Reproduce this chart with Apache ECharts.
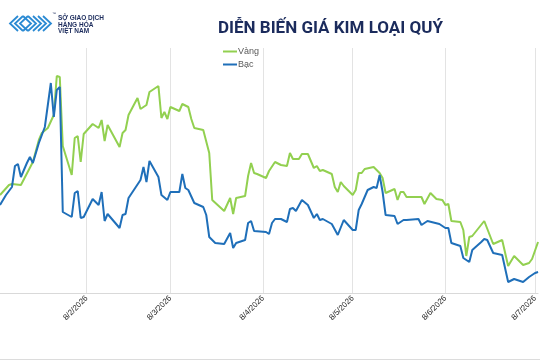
<!DOCTYPE html>
<html><head><meta charset="utf-8">
<script src="https://cdn.jsdelivr.net/npm/echarts@6/dist/echarts.min.js"></script>
<style>html,body{margin:0;padding:0;background:#fff}#c{width:540px;height:360px}</style>
</head><body><div id="c"></div>
<script>
var titleText = 'DIỄN BIẾN GIÁ KIM LOẠI QUÝ';
var seriesNames = ['Vàng', 'Bạc'];
var yearLabel = '2026';
var firstDay = '2026-01-10';
var lastDay = '2026-07-09';
var tickDay = '08';

var goldDates = ['01-10','01-13','01-14','01-17','01-21','01-23','01-24','01-26','01-28','01-29','01-30','01-31',
'02-03','02-04','02-05','02-06','02-07','02-10','02-12','02-13','02-14','02-15','02-19','02-20','02-21','02-22','02-25','02-26','02-28',
'03-01','03-04','03-05','03-06','03-07','03-08','03-11','03-12','03-14','03-15','03-16','03-19','03-21','03-22','03-26','03-28','03-29','03-30',
'04-02','04-03','04-04','04-05','04-06','04-09','04-10','04-12','04-14','04-16','04-17','04-18','04-20','04-21','04-23','04-25','04-26','04-27','04-28',
'05-01','05-02','05-03','05-04','05-05','05-08','05-09','05-10','05-11','05-12','05-15','05-17','05-18','05-19','05-22','05-23','05-24','05-25','05-26','05-31',
'06-01','06-03','06-05','06-07','06-08','06-09','06-10','06-13','06-14','06-15','06-16','06-17','06-21','06-24','06-27','06-29',
'07-01','07-04','07-06','07-07','07-09'];
var goldValues = [98,108,109,108,131,153,160,165,178,217,216,147,
118,155,157,131,159,169,165,173,152,168,146,160,163,178,195,184,188,
201,207,175,181,174,186,182,189,186,174,165,163,140,93,82,95,79,95,
97,117,130,120,119,115,122,131,128,127,140,134,134,139,139,125,127,122,123,
119,106,101,111,107,98,103,120,120,124,126,120,115,100,104,93,101,101,96,96,
89,100,94,93,88,89,72,71,63,37,56,57,72,49,53,27,
37,28,30,34,51];

var silverDates = ['01-10','01-12','01-14','01-15','01-16','01-17','01-18','01-19','01-20','01-21','01-23','01-25','01-27','01-28','01-29','01-30','01-31',
'02-03','02-04','02-05','02-06','02-07','02-10','02-12','02-13','02-14','02-15','02-19','02-20','02-21','02-22','02-26','02-27','02-28',
'03-01','03-04','03-05','03-07','03-08','03-11','03-12','03-13','03-14','03-16','03-19','03-20','03-21','03-23','03-26','03-28','03-29','03-30',
'04-02','04-03','04-04','04-05','04-09','04-10','04-11','04-12','04-14','04-16','04-17','04-18','04-19','04-21','04-23','04-25','04-26','04-27','04-28',
'05-01','05-03','05-05','05-08','05-09','05-10','05-11','05-13','05-15','05-16','05-17','05-18','05-19','05-22','05-23','05-25','05-26','05-30','05-31',
'06-02','06-06','06-08','06-09','06-10','06-13','06-14','06-16','06-17','06-20','06-21','06-22','06-24','06-27','06-29',
'07-01','07-04','07-06','07-08','07-09'];
var silverValues = [88,98,106,127,129,116,123,130,136,130,150,166,210,176,203,206,81,
76,100,102,75,76,94,88,101,72,79,65,78,79,95,113,126,111,
132,116,98,93,101,101,119,105,103,90,86,78,56,50,49,60,45,50,
53,70,72,62,61,59,70,74,74,71,84,85,82,93,88,75,79,73,74,
69,58,73,63,63,83,89,103,106,105,118,101,78,77,69,73,73,74,68,
72,69,65,65,50,47,35,31,43,51,54,53,40,38,11,
14,11,16,20,21];

function pad(n){return (n<10?'0':'')+n;}
var categories = [];
(function(){
  var t = Date.parse(firstDay+'T00:00:00Z'), end = Date.parse(lastDay+'T00:00:00Z');
  while (t <= end) { var d = new Date(t); categories.push(d.getUTCFullYear()+'-'+pad(d.getUTCMonth()+1)+'-'+pad(d.getUTCDate())); t += 86400000; }
})();
function pairs(dates, vals){ return dates.map(function(d,i){ return [yearLabel+'-'+d, vals[i]]; }); }
function isTick(idx, val){ return typeof val === 'string' && val.slice(8) === tickDay; }

var chart = echarts.init(document.getElementById('c'), null, {renderer:'canvas'});
var logoColor = '#2b8ad3';
var chev = function(pts){ return {type:'polyline', shape:{points:pts}, style:{stroke:logoColor, lineWidth:1.8, fill:null}}; };
chart.setOption({
  animation:false,
  backgroundColor:'#fff',
  title:{ text:titleText, left:213, top:15, textStyle:{fontFamily:'Roboto', fontWeight:'bold', fontSize:17, color:'#1b2b5c'} },
  legend:{ data:seriesNames, orient:'vertical', left:218, top:42, itemWidth:14, itemHeight:2, itemGap:4, icon:'rect',
    textStyle:{fontFamily:'Liberation Sans', fontSize:9, color:'#595959', padding:[0,0,0,-4]} },
  grid:{ left:-1, right:1, top:48, bottom:67, containLabel:false },
  xAxis:{ type:'category', data:categories, boundaryGap:false,
    axisLine:{show:true, lineStyle:{color:'#d9d9d9', width:1}},
    axisTick:{show:false},
    splitLine:{show:true, interval:isTick, lineStyle:{color:'#e3e3e3', width:1}},
    axisLabel:{ interval:isTick, rotate:45, margin:4, fontFamily:'Liberation Sans', fontSize:8, color:'#2b2b2b',
      formatter:function(v){ var p=v.split('-'); return parseInt(p[2],10)+'/'+parseInt(p[1],10)+'/'+p[0]; } } },
  yAxis:{ type:'value', min:0, max:245, show:false, splitLine:{show:false} },
  series:[
    { name:seriesNames[0], type:'line', data:pairs(goldDates, goldValues), symbol:'none', lineStyle:{color:'#92d050', width:2}, itemStyle:{color:'#92d050'} },
    { name:seriesNames[1], type:'line', data:pairs(silverDates, silverValues), symbol:'none', lineStyle:{color:'#1f6fb9', width:2}, itemStyle:{color:'#1f6fb9'} }
  ],
  graphic:[
    chev([[18,16],[10,23.5],[18,31]]),
    chev([[23,16],[15,23.5],[23,31]]),
    chev([[23,16],[31,23.5],[23,31]]),
    chev([[28,16],[20,23.5],[28,31]]),
    chev([[28,16],[36,23.5],[28,31]]),
    chev([[33,16],[41,23.5],[33,31]]),
    chev([[38,16],[46,23.5],[38,31]]),
    chev([[43,16],[51,23.5],[43,31]]),
    {type:'text', left:52, top:12, style:{text:'™', fontSize:4, fill:'#1b2b5c'}},
    {type:'text', left:58, top:15, style:{text:'SỞ GIAO DỊCH', fontFamily:'Liberation Sans', fontWeight:'bold', fontSize:6.5, fill:'#1b2b5c'}},
    {type:'text', left:58, top:21.5, style:{text:'HÀNG HÓA', fontFamily:'Liberation Sans', fontWeight:'bold', fontSize:6.5, fill:'#1b2b5c'}},
    {type:'text', left:58, top:28, style:{text:'VIỆT NAM', fontFamily:'Liberation Sans', fontWeight:'bold', fontSize:6.5, fill:'#1b2b5c'}},
    {type:'line', shape:{x1:0, y1:359.5, x2:540, y2:359.5}, style:{stroke:'#dcdcdc', lineWidth:1}}
  ]
});
</script></body></html>
